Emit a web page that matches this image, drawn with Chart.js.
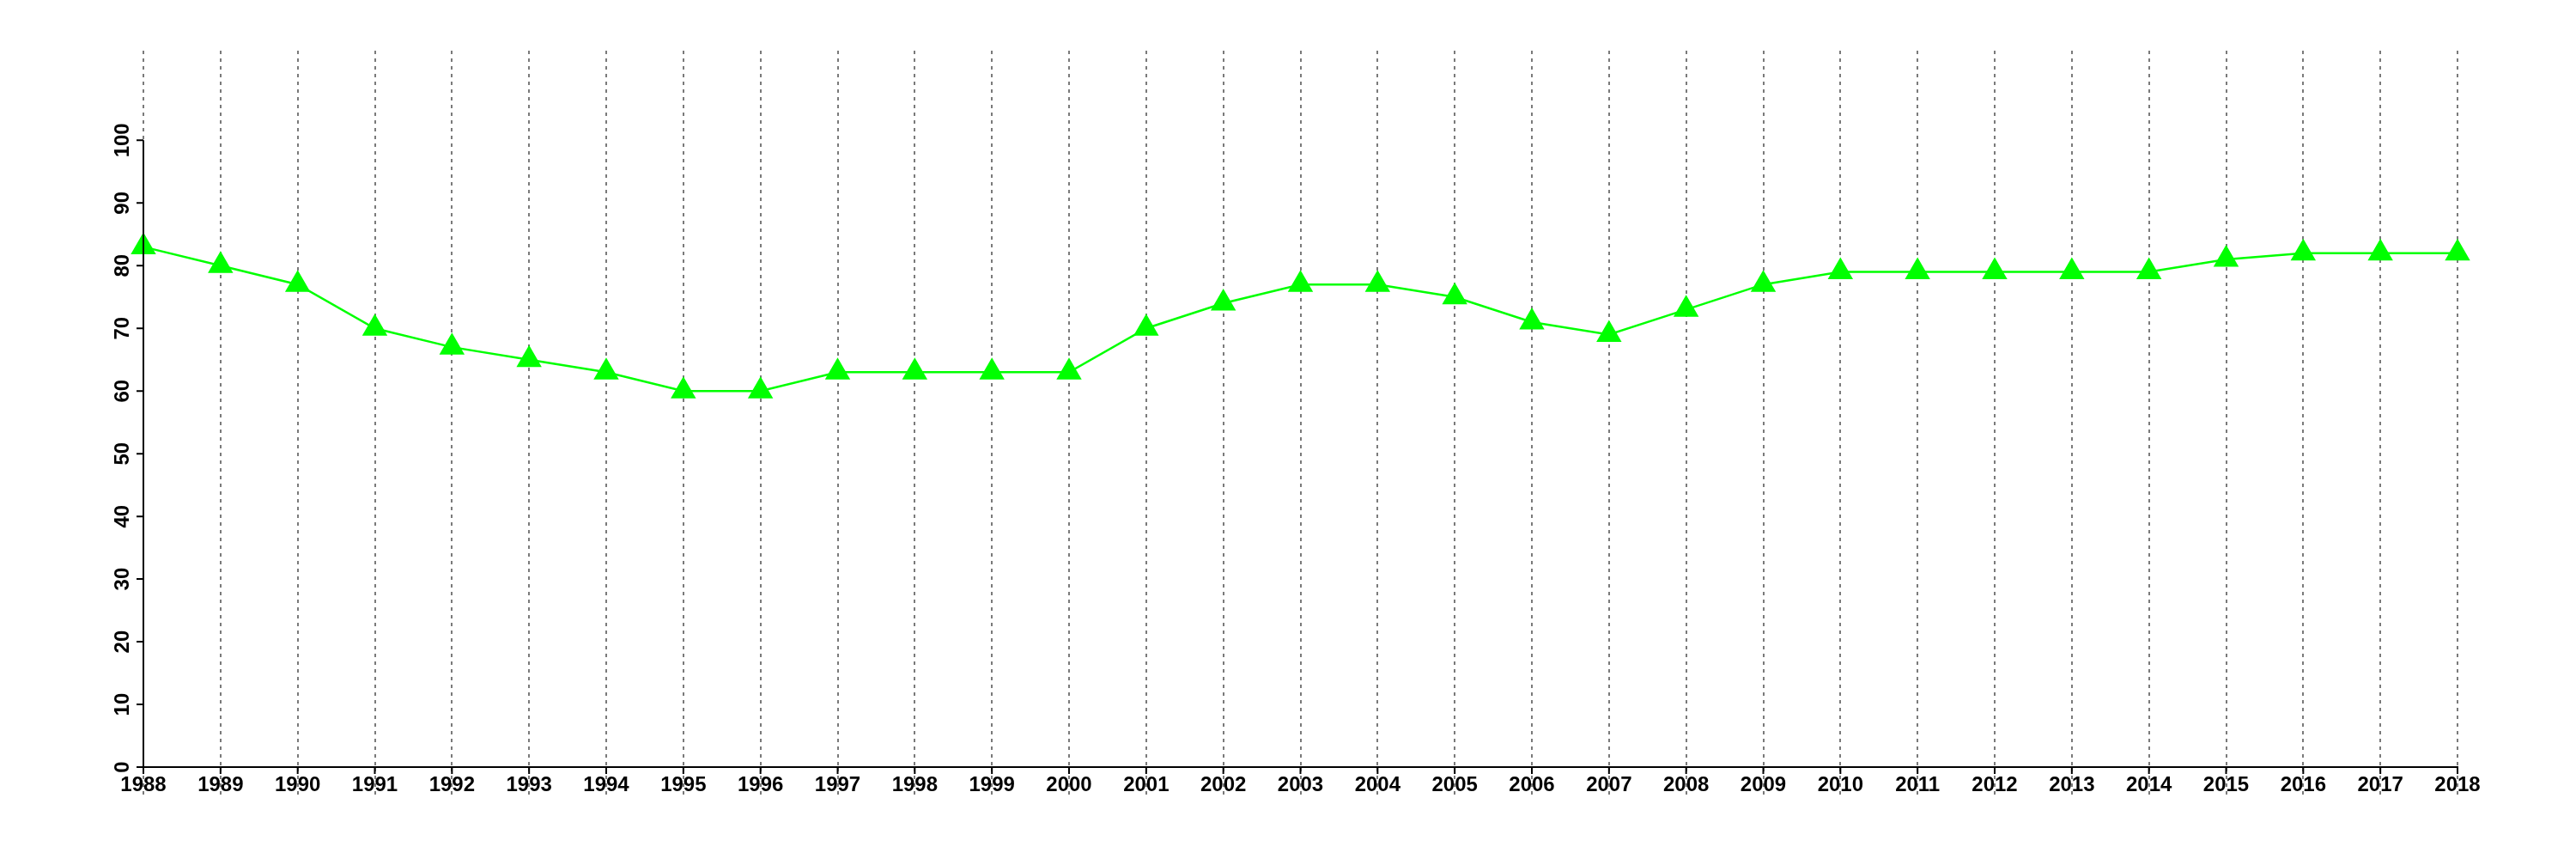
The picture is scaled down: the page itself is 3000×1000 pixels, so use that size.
<!DOCTYPE html>
<html>
<head>
<meta charset="utf-8">
<script src="https://cdn.jsdelivr.net/npm/chart.js@4/dist/chart.umd.min.js"></script>
<style>
  body { margin: 0; background: #fff; }
  canvas { display: block; }
</style>
</head>
<body>
<canvas id="chart" width="3000" height="1000"></canvas>
<script>
// Años (eje x)
const years = ["1988", "1989", "1990", "1991", "1992", "1993", "1994", "1995", "1996", "1997",
  "1998", "1999", "2000", "2001", "2002", "2003", "2004", "2005", "2006", "2007",
  "2008", "2009", "2010", "2011", "2012", "2013", "2014", "2015", "2016", "2017", "2018"];

// Valores de la serie
const values = [83, 80, 77, 70, 67, 65, 63, 60, 60, 63,
  63, 63, 63, 70, 74, 77, 77, 75, 71, 69,
  73, 77, 79, 79, 79, 79, 79, 81, 82, 82, 82];

// Marcas del eje y
const yTicks = [0, 10, 20, 30, 40, 50, 60, 70, 80, 90, 100];
const yAxisMax = 100;

const tickFont = { family: "'Liberation Sans', Arial, sans-serif", size: 24, weight: 'bold' };

// Ejes dibujados a mano (línea y marcas negras), usando las escalas de Chart.js
const axisPlugin = {
  id: 'axisLines',
  afterDraw(chart) {
    const ctx = chart.ctx;
    const x = chart.scales.x;
    const y = chart.scales.y;
    const left = chart.chartArea.left;
    const bottom = chart.chartArea.bottom;
    ctx.save();
    ctx.strokeStyle = '#000';
    ctx.lineWidth = 2;
    ctx.beginPath();
    ctx.moveTo(left, y.getPixelForValue(0));
    ctx.lineTo(left, y.getPixelForValue(yAxisMax));
    yTicks.forEach(v => {
      const py = y.getPixelForValue(v);
      ctx.moveTo(left, py);
      ctx.lineTo(left - 8, py);
    });
    years.forEach((yr, i) => {
      const px = x.getPixelForTick(i);
      ctx.moveTo(px, bottom);
      ctx.lineTo(px, bottom + 8);
    });
    ctx.stroke();
    ctx.restore();
  }
};

new Chart(document.getElementById('chart').getContext('2d'), {
  type: 'line',
  data: {
    labels: years,
    datasets: [{
      data: values,
      borderColor: '#00ff00',
      backgroundColor: '#00ff00',
      borderWidth: 2.5,
      pointStyle: 'triangle',
      pointRadius: 15,
      pointBorderWidth: 2,
      pointBackgroundColor: '#00ff00',
      pointBorderColor: '#00ff00',
      tension: 0,
      fill: false
    }]
  },
  options: {
    responsive: false,
    animation: false,
    devicePixelRatio: 1,
    layout: { padding: { left: 122, right: 138, top: 59, bottom: 38 } },
    plugins: { legend: { display: false }, tooltip: { enabled: false } },
    scales: {
      x: {
        offset: false,
        grid: {
          display: true,
          color: '#7a7a7a',
          lineWidth: 2,
          drawTicks: true,
          tickLength: 34,
          tickColor: '#7a7a7a',
          tickWidth: 2,
          tickBorderDash: [4, 5]
        },
        border: { display: true, color: '#000', width: 2, dash: [4, 5] },
        ticks: {
          color: '#000',
          font: tickFont,
          padding: -27,
          maxRotation: 0,
          minRotation: 0,
          autoSkip: false
        },
        afterFit(scale) { scale.height = 69; }
      },
      y: {
        min: 0,
        max: 114.3,
        grid: { display: false },
        border: { display: false },
        ticks: {
          stepSize: 10,
          color: '#000',
          font: tickFont,
          padding: -4,
          minRotation: 90,
          maxRotation: 90,
          crossAlign: 'center',
          callback: v => (yTicks.includes(v) ? String(v) : null)
        },
        afterFit(scale) { scale.width = 45; }
      }
    }
  },
  plugins: [axisPlugin]
});
</script>
</body>
</html>
